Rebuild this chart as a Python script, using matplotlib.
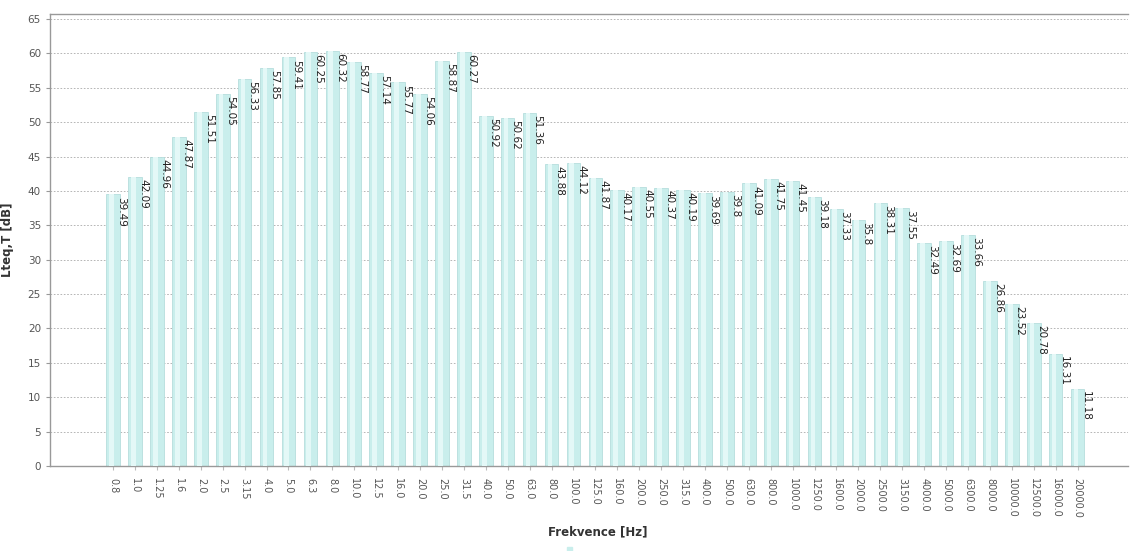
import matplotlib
matplotlib.use("Agg")
import matplotlib.pyplot as plt
import numpy as np

freqs = ["0.8", "1.0", "1.25", "1.6", "2.0", "2.5", "3.15", "4.0", "5.0", "6.3",
         "8.0", "10.0", "12.5", "16.0", "20.0", "25.0", "31.5", "40.0", "50.0", "63.0",
         "80.0", "100.0", "125.0", "160.0", "200.0", "250.0", "315.0", "400.0", "500.0",
         "630.0", "800.0", "1000.0", "1250.0", "1600.0", "2000.0", "2500.0", "3150.0",
         "4000.0", "5000.0", "6300.0", "8000.0", "10000.0", "12500.0", "16000.0", "20000.0"]
values = [39.49, 42.09, 44.96, 47.87, 51.51, 54.05, 56.33, 57.85, 59.41, 60.25,
          60.32, 58.77, 57.14, 55.77, 54.06, 58.87, 60.27, 50.92, 50.62, 51.36,
          43.88, 44.12, 41.87, 40.17, 40.55, 40.37, 40.19, 39.69, 39.8, 41.09,
          41.75, 41.45, 39.18, 37.33, 35.8, 38.31, 37.55, 32.49, 32.69, 33.66,
          26.86, 23.52, 20.78, 16.31, 11.18]
value_labels = ["39.49", "42.09", "44.96", "47.87", "51.51", "54.05", "56.33", "57.85", "59.41", "60.25",
                "60.32", "58.77", "57.14", "55.77", "54.06", "58.87", "60.27", "50.92", "50.62", "51.36",
                "43.88", "44.12", "41.87", "40.17", "40.55", "40.37", "40.19", "39.69", "39.8", "41.09",
                "41.75", "41.45", "39.18", "37.33", "35.8", "38.31", "37.55", "32.49", "32.69", "33.66",
                "26.86", "23.52", "20.78", "16.31", "11.18"]

fig = plt.figure(figsize=(11.3, 5.51), dpi=100)
ax = fig.add_axes([50/1130, 1-466/551, 1078/1130, (466-14)/551])

x = np.arange(len(freqs))
w = 0.62
ax.bar(x, values, width=w, color="#c9eeec", edgecolor="#b6dedd", linewidth=0.6, zorder=2)
# lighter highlight stripe for gradient look
ax.bar(x - w*0.12, values, width=w*0.35, color="#e4f8f7", linewidth=0, zorder=3)

for xi, v, lab in zip(x, values, value_labels):
    ax.text(xi + 0.36, v - 0.3, lab, rotation=-90, ha="center", va="top",
            fontsize=7.5, color="#222222", zorder=4)

ax.set_xlim(-2.88, 46.3)
ax.set_ylim(0, 65.73)
ax.set_yticks(np.arange(0, 66, 5))
ax.set_xticks(x)
ax.set_xticklabels(freqs, rotation=-90, fontsize=7, color="#555555")
ax.tick_params(axis="y", labelsize=7.5, labelcolor="#555555", length=3, color="#999999")
ax.tick_params(axis="x", length=3, color="#bbbbbb", pad=6)

ax.yaxis.grid(True, linestyle=(0, (2, 2)), color="#aaaaaa", linewidth=0.6, zorder=0)
ax.set_axisbelow(True)
for s in ["left", "bottom", "top"]:
    ax.spines[s].set_color("#999999")
    ax.spines[s].set_linewidth(1.0)
ax.spines["right"].set_visible(False)

fig.text(8/1130, 1-240/551, "Lteq,T [dB]", rotation=90, ha="center", va="center",
         fontsize=8.5, fontweight="bold", color="#333333")
fig.text(598/1130, 1-532/551, "Frekvence [Hz]", ha="center", va="center",
         fontsize=8.5, fontweight="bold", color="#333333")
fig.patches.append(plt.Rectangle((567/1130, 1-551/551), 5/1130, 4/551,
                                 transform=fig.transFigure, color="#c9eeec"))

fig.savefig("out.png", dpi=100)
